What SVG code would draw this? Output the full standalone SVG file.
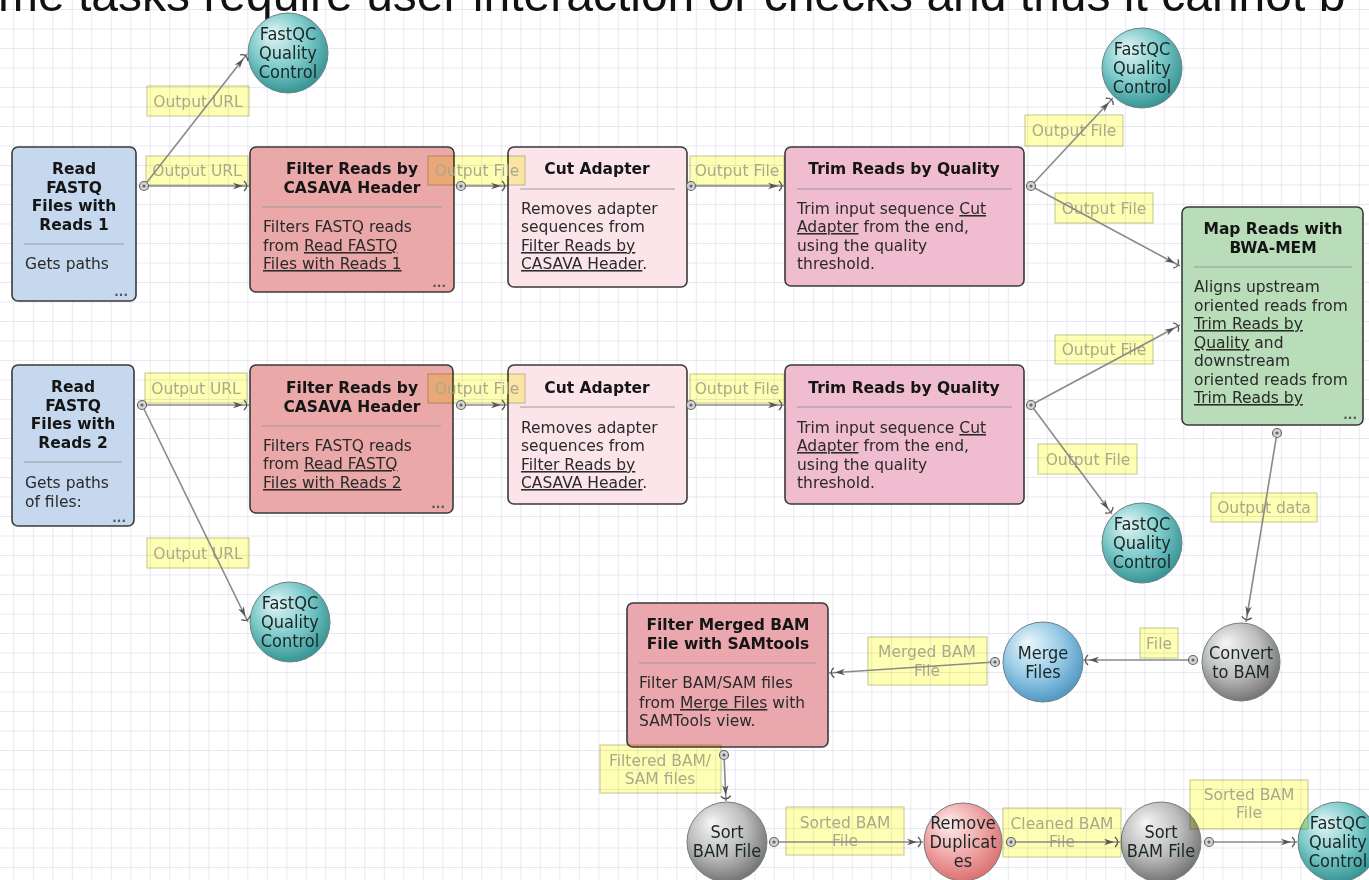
<svg xmlns="http://www.w3.org/2000/svg" width="1369" height="880" viewBox="0 0 1369 880">
<defs>
<pattern id="grid" width="19.5" height="19.5" patternUnits="userSpaceOnUse" x="13.3" y="9">
<path d="M0 0 L19.5 0 M0 0 L0 19.5" stroke="#d2d2ea" stroke-width="1" fill="none"/>
</pattern>
<radialGradient id="gTeal" cx="0.45" cy="0.4" r="0.65" fx="0.3" fy="0.25">
<stop offset="0" stop-color="#e6f6f6"/><stop offset="0.55" stop-color="#7dcaca"/><stop offset="1" stop-color="#2c8d8d"/>
</radialGradient>
<radialGradient id="gGray" cx="0.45" cy="0.4" r="0.65" fx="0.3" fy="0.25">
<stop offset="0" stop-color="#f6f6f6"/><stop offset="0.55" stop-color="#bdbdbd"/><stop offset="1" stop-color="#6a6a6a"/>
</radialGradient>
<radialGradient id="gBlue" cx="0.45" cy="0.4" r="0.65" fx="0.3" fy="0.25">
<stop offset="0" stop-color="#eef8fd"/><stop offset="0.55" stop-color="#98cbe6"/><stop offset="1" stop-color="#4690c0"/>
</radialGradient>
<radialGradient id="gRed" cx="0.45" cy="0.4" r="0.65" fx="0.3" fy="0.25">
<stop offset="0" stop-color="#fdeeee"/><stop offset="0.55" stop-color="#f0a8a8"/><stop offset="1" stop-color="#d86a6a"/>
</radialGradient>
<marker id="arr" viewBox="-17 -7 19 14" refX="0" refY="0" markerWidth="19" markerHeight="14" markerUnits="userSpaceOnUse" orient="auto">
<path d="M-16,-3.2 L-6,0 L-16,3.2 L-13,0 z" fill="#555"/>
<path d="M-5,-5 Q0.5,0 -5,5" fill="none" stroke="#555" stroke-width="1.3"/>
</marker>
</defs>
<style>
.nr{stroke:#3a3a3a;stroke-width:1.6}
.t{font-family:"DejaVu Sans",Verdana,sans-serif;font-size:15.5px;font-weight:bold;fill:#151515;text-anchor:middle}
.b{font-family:"DejaVu Sans",Verdana,sans-serif;font-size:15.5px;fill:#2a2a2a}
.u{text-decoration:underline}
.dots{font-family:"DejaVu Sans",sans-serif;font-size:12px;font-weight:bold;fill:#555;text-anchor:end}
.sep{stroke:#9a9a9a;stroke-width:1}
.cc{stroke:#6f8080;stroke-width:1}
.ct{font-family:"DejaVu Sans Condensed","DejaVu Sans",sans-serif;font-stretch:condensed;font-size:18px;fill:#1a2626;text-anchor:middle}
.lr{fill:#ffffb4;stroke:#c6c68a;stroke-width:1;mix-blend-mode:multiply}
.lt{font-family:"DejaVu Sans",Verdana,sans-serif;font-size:15.5px;fill:#a9a98c;text-anchor:middle}
.cn{stroke:#8a8a8a;stroke-width:1.6;fill:none;marker-end:url(#arr)}
.port{fill:#d4d4d4;stroke:#666;stroke-width:1.2}
.pd{fill:#666}
</style>
<rect width="1369" height="880" fill="#ffffff"/>
<rect width="1369" height="880" fill="url(#grid)"/>
<text x="-2" y="11" font-family="Liberation Sans, Arial, sans-serif" font-size="48" fill="#111">me tasks require user interaction or checks and thus it cannot b</text>

<g id="read1">
<rect class="nr" x="12" y="147" width="124" height="154" rx="6" fill="#c5d8ee"/>
<text class="t"><tspan x="74" y="174">Read</tspan><tspan x="74" y="193">FASTQ</tspan><tspan x="74" y="211">Files with</tspan><tspan x="74" y="230">Reads 1</tspan></text>
<line class="sep" x1="24" y1="244" x2="124" y2="244"/>
<text class="b" x="25" y="269">Gets paths</text>
<text class="dots" x="128" y="296">...</text>
</g>
<g id="filter1">
<rect class="nr" x="250" y="147" width="204" height="145" rx="6" fill="#eaa8a8"/>
<text class="t"><tspan x="352" y="174">Filter Reads by</tspan><tspan x="352" y="193">CASAVA Header</tspan></text>
<line class="sep" x1="262" y1="207" x2="442" y2="207"/>
<text class="b"><tspan x="263" y="232">Filters FASTQ reads</tspan><tspan x="263" y="251">from <tspan class="u">Read FASTQ</tspan></tspan><tspan x="263" y="269" class="u">Files with Reads 1</tspan></text>
<text class="dots" x="446" y="287">...</text>
</g>
<g id="cut1">
<rect class="nr" x="508" y="147" width="179" height="140" rx="6" fill="#fbe5ea"/>
<text class="t" x="597" y="174">Cut Adapter</text>
<line class="sep" x1="520" y1="189" x2="675" y2="189"/>
<text class="b"><tspan x="521" y="214">Removes adapter</tspan><tspan x="521" y="232">sequences from</tspan><tspan x="521" y="251" class="u">Filter Reads by</tspan><tspan x="521" y="269"><tspan class="u">CASAVA Header</tspan>.</tspan></text>
</g>
<g id="trim1">
<rect class="nr" x="785" y="147" width="239" height="139" rx="6" fill="#f0bccf"/>
<text class="t" x="904" y="174">Trim Reads by Quality</text>
<line class="sep" x1="797" y1="189" x2="1012" y2="189"/>
<text class="b"><tspan x="797" y="214">Trim input sequence <tspan class="u">Cut</tspan></tspan><tspan x="797" y="232"><tspan class="u">Adapter</tspan> from the end,</tspan><tspan x="797" y="251">using the quality</tspan><tspan x="797" y="269">threshold.</tspan></text>
</g>

<g id="read2">
<rect class="nr" x="12" y="365" width="122" height="161" rx="6" fill="#c5d8ee"/>
<text class="t"><tspan x="73" y="392">Read</tspan><tspan x="73" y="411">FASTQ</tspan><tspan x="73" y="429">Files with</tspan><tspan x="73" y="448">Reads 2</tspan></text>
<line class="sep" x1="24" y1="462" x2="122" y2="462"/>
<text class="b"><tspan x="25" y="488">Gets paths</tspan><tspan x="25" y="507">of files:</tspan></text>
<text class="dots" x="126" y="522">...</text>
</g>
<g id="filter2">
<rect class="nr" x="250" y="365" width="203" height="148" rx="6" fill="#eaa8a8"/>
<text class="t"><tspan x="352" y="393">Filter Reads by</tspan><tspan x="352" y="412">CASAVA Header</tspan></text>
<line class="sep" x1="262" y1="426" x2="441" y2="426"/>
<text class="b"><tspan x="263" y="451">Filters FASTQ reads</tspan><tspan x="263" y="469">from <tspan class="u">Read FASTQ</tspan></tspan><tspan x="263" y="488" class="u">Files with Reads 2</tspan></text>
<text class="dots" x="445" y="508">...</text>
</g>
<g id="cut2">
<rect class="nr" x="508" y="365" width="179" height="139" rx="6" fill="#fbe5ea"/>
<text class="t" x="597" y="393">Cut Adapter</text>
<line class="sep" x1="520" y1="407" x2="675" y2="407"/>
<text class="b"><tspan x="521" y="433">Removes adapter</tspan><tspan x="521" y="451">sequences from</tspan><tspan x="521" y="470" class="u">Filter Reads by</tspan><tspan x="521" y="488"><tspan class="u">CASAVA Header</tspan>.</tspan></text>
</g>
<g id="trim2">
<rect class="nr" x="785" y="365" width="239" height="139" rx="6" fill="#f0bccf"/>
<text class="t" x="904" y="393">Trim Reads by Quality</text>
<line class="sep" x1="797" y1="407" x2="1012" y2="407"/>
<text class="b"><tspan x="797" y="433">Trim input sequence <tspan class="u">Cut</tspan></tspan><tspan x="797" y="451"><tspan class="u">Adapter</tspan> from the end,</tspan><tspan x="797" y="470">using the quality</tspan><tspan x="797" y="488">threshold.</tspan></text>
</g>

<g id="map">
<rect class="nr" x="1182" y="207" width="181" height="218" rx="6" fill="#b9dcb9"/>
<text class="t"><tspan x="1273" y="234">Map Reads with</tspan><tspan x="1273" y="253">BWA-MEM</tspan></text>
<line class="sep" x1="1194" y1="267" x2="1352" y2="267"/>
<text class="b"><tspan x="1194" y="292">Aligns upstream</tspan><tspan x="1194" y="311">oriented reads from</tspan><tspan x="1194" y="329" class="u">Trim Reads by</tspan><tspan x="1194" y="348"><tspan class="u">Quality</tspan> and</tspan><tspan x="1194" y="366">downstream</tspan><tspan x="1194" y="385">oriented reads from</tspan><tspan x="1194" y="403" class="u">Trim Reads by</tspan></text>
<text class="dots" x="1357" y="419">...</text>
</g>

<g id="filtermerged">
<rect class="nr" x="627" y="603" width="201" height="144" rx="6" fill="#eaa8ae"/>
<text class="t"><tspan x="728" y="630">Filter Merged BAM</tspan><tspan x="728" y="649">File with SAMtools</tspan></text>
<line class="sep" x1="639" y1="663" x2="816" y2="663"/>
<text class="b"><tspan x="639" y="688">Filter BAM/SAM files</tspan><tspan x="639" y="708">from <tspan class="u">Merge Files</tspan> with</tspan><tspan x="639" y="726">SAMTools view.</tspan></text>
</g>

<g id="fastqc1">
<circle class="cc" cx="288" cy="53" r="40" fill="url(#gTeal)"/>
<text class="ct"><tspan x="288" y="40">FastQC</tspan><tspan x="288" y="59">Quality</tspan><tspan x="288" y="78">Control</tspan></text>
</g>
<g id="fastqc2">
<circle class="cc" cx="1142" cy="68" r="40" fill="url(#gTeal)"/>
<text class="ct"><tspan x="1142" y="55">FastQC</tspan><tspan x="1142" y="74">Quality</tspan><tspan x="1142" y="93">Control</tspan></text>
</g>
<g id="fastqc3">
<circle class="cc" cx="1142" cy="543" r="40" fill="url(#gTeal)"/>
<text class="ct"><tspan x="1142" y="530">FastQC</tspan><tspan x="1142" y="549">Quality</tspan><tspan x="1142" y="568">Control</tspan></text>
</g>
<g id="fastqc4">
<circle class="cc" cx="290" cy="622" r="40" fill="url(#gTeal)"/>
<text class="ct"><tspan x="290" y="609">FastQC</tspan><tspan x="290" y="628">Quality</tspan><tspan x="290" y="647">Control</tspan></text>
</g>
<g id="fastqc5">
<circle class="cc" cx="1338" cy="842" r="40" fill="url(#gTeal)"/>
<text class="ct"><tspan x="1338" y="829">FastQC</tspan><tspan x="1338" y="848">Quality</tspan><tspan x="1338" y="867">Control</tspan></text>
</g>
<g id="convert">
<circle class="cc" cx="1241" cy="662" r="39" fill="url(#gGray)"/>
<text class="ct"><tspan x="1241" y="659">Convert</tspan><tspan x="1241" y="678">to BAM</tspan></text>
</g>
<g id="merge">
<circle class="cc" cx="1043" cy="662" r="40" fill="url(#gBlue)"/>
<text class="ct"><tspan x="1043" y="659">Merge</tspan><tspan x="1043" y="678">Files</tspan></text>
</g>
<g id="sort1">
<circle class="cc" cx="727" cy="842" r="40" fill="url(#gGray)"/>
<text class="ct"><tspan x="727" y="838">Sort</tspan><tspan x="727" y="857">BAM File</tspan></text>
</g>
<g id="remove">
<circle class="cc" cx="963" cy="842" r="39" fill="url(#gRed)"/>
<text class="ct"><tspan x="963" y="829">Remove</tspan><tspan x="963" y="848">Duplicat</tspan><tspan x="963" y="867">es</tspan></text>
</g>
<g id="sort2">
<circle class="cc" cx="1161" cy="842" r="40" fill="url(#gGray)"/>
<text class="ct"><tspan x="1161" y="838">Sort</tspan><tspan x="1161" y="857">BAM File</tspan></text>
</g>

<g id="connectors">
<g id="labels">
<rect class="lr" x="147" y="86" width="102" height="30"/><text class="lt" x="198" y="107">Output URL</text>
<rect class="lr" x="146" y="156" width="102" height="29"/><text class="lt" x="197" y="176">Output URL</text>
<rect class="lr" x="428" y="156" width="97" height="29"/><text class="lt" x="477" y="176">Output File</text>
<rect class="lr" x="690" y="156" width="94" height="29"/><text class="lt" x="737" y="176">Output File</text>
<rect class="lr" x="1025" y="115" width="98" height="31"/><text class="lt" x="1074" y="136">Output File</text>
<rect class="lr" x="1055" y="193" width="98" height="30"/><text class="lt" x="1104" y="214">Output File</text>
<rect class="lr" x="145" y="373" width="102" height="30"/><text class="lt" x="196" y="394">Output URL</text>
<rect class="lr" x="147" y="538" width="102" height="30"/><text class="lt" x="198" y="559">Output URL</text>
<rect class="lr" x="428" y="374" width="97" height="29"/><text class="lt" x="477" y="394">Output File</text>
<rect class="lr" x="690" y="374" width="94" height="29"/><text class="lt" x="737" y="394">Output File</text>
<rect class="lr" x="1055" y="335" width="98" height="29"/><text class="lt" x="1104" y="355">Output File</text>
<rect class="lr" x="1038" y="444" width="99" height="30"/><text class="lt" x="1088" y="465">Output File</text>
<rect class="lr" x="1211" y="493" width="106" height="29"/><text class="lt" x="1264" y="513">Output data</text>
<rect class="lr" x="1140" y="628" width="38" height="30"/><text class="lt" x="1159" y="649">File</text>
<rect class="lr" x="868" y="637" width="119" height="48"/><text class="lt"><tspan x="927" y="657">Merged BAM</tspan><tspan x="927" y="676">File</tspan></text>
<rect class="lr" x="600" y="745" width="121" height="48"/><text class="lt"><tspan x="660" y="766">Filtered BAM/</tspan><tspan x="660" y="784">SAM files</tspan></text>
<rect class="lr" x="786" y="807" width="118" height="48"/><text class="lt"><tspan x="845" y="828">Sorted BAM</tspan><tspan x="845" y="846">File</tspan></text>
<rect class="lr" x="1003" y="808" width="118" height="49"/><text class="lt"><tspan x="1062" y="829">Cleaned BAM</tspan><tspan x="1062" y="847">File</tspan></text>
<rect class="lr" x="1190" y="780" width="118" height="49"/><text class="lt"><tspan x="1249" y="800">Sorted BAM</tspan><tspan x="1249" y="818">File</tspan></text>
</g>
<g id="lines">
<path class="cn" d="M144,186 L247,54"/>
<path class="cn" d="M144,186 L249,186"/>
<path class="cn" d="M461,186 L507,186"/>
<path class="cn" d="M691,186 L784,186"/>
<path class="cn" d="M1031,186 L1113,98"/>
<path class="cn" d="M1031,186 L1180,266"/>
<path class="cn" d="M142,405 L249,405"/>
<path class="cn" d="M142,405 L248,622"/>
<path class="cn" d="M461,405 L507,405"/>
<path class="cn" d="M691,405 L784,405"/>
<path class="cn" d="M1031,405 L1180,325"/>
<path class="cn" d="M1031,405 L1112,514"/>
<path class="cn" d="M1277,433 L1246,622"/>
<path class="cn" d="M1193,660 L1083,660"/>
<path class="cn" d="M995,662 L829,673"/>
<path class="cn" d="M724,755 L726,801"/>
<path class="cn" d="M774,842 L923,842"/>
<path class="cn" d="M1011,842 L1120,842"/>
<path class="cn" d="M1209,842 L1297,842"/>
</g>
<g id="ports">
<circle class="port" cx="144" cy="186" r="4.5"/><circle class="pd" cx="144" cy="186" r="1.6"/>
<circle class="port" cx="461" cy="186" r="4.5"/><circle class="pd" cx="461" cy="186" r="1.6"/>
<circle class="port" cx="691" cy="186" r="4.5"/><circle class="pd" cx="691" cy="186" r="1.6"/>
<circle class="port" cx="1031" cy="186" r="4.5"/><circle class="pd" cx="1031" cy="186" r="1.6"/>
<circle class="port" cx="142" cy="405" r="4.5"/><circle class="pd" cx="142" cy="405" r="1.6"/>
<circle class="port" cx="461" cy="405" r="4.5"/><circle class="pd" cx="461" cy="405" r="1.6"/>
<circle class="port" cx="691" cy="405" r="4.5"/><circle class="pd" cx="691" cy="405" r="1.6"/>
<circle class="port" cx="1031" cy="405" r="4.5"/><circle class="pd" cx="1031" cy="405" r="1.6"/>
<circle class="port" cx="1277" cy="433" r="4.5"/><circle class="pd" cx="1277" cy="433" r="1.6"/>
<circle class="port" cx="1193" cy="660" r="4.5"/><circle class="pd" cx="1193" cy="660" r="1.6"/>
<circle class="port" cx="995" cy="662" r="4.5"/><circle class="pd" cx="995" cy="662" r="1.6"/>
<circle class="port" cx="724" cy="755" r="4.5"/><circle class="pd" cx="724" cy="755" r="1.6"/>
<circle class="port" cx="774" cy="842" r="4.5"/><circle class="pd" cx="774" cy="842" r="1.6"/>
<circle class="port" cx="1011" cy="842" r="4.5"/><circle class="pd" cx="1011" cy="842" r="1.6"/>
<circle class="port" cx="1209" cy="842" r="4.5"/><circle class="pd" cx="1209" cy="842" r="1.6"/>
</g>
</g>
</svg>
